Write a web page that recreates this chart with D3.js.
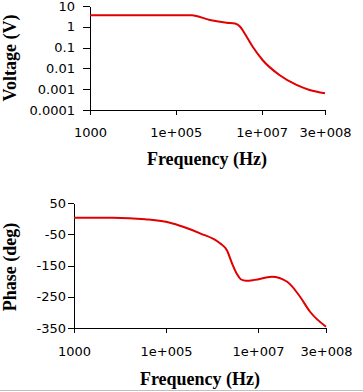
<!DOCTYPE html>
<meta charset="utf-8">
<style>

body {
  margin: 0;
  background: #fff;
}

.axis path, .axis line {
  stroke: #000;
  shape-rendering: crispEdges;
}

.axis text {
  font: 13px "DejaVu Sans", sans-serif;
  fill: #000;
}

.title {
  font: bold 18px "Liberation Serif", serif;
  fill: #000;
}

.curve {
  fill: none;
  stroke: #e00000;
  stroke-width: 2;
}

</style>
<body>
<script src="https://d3js.org/d3.v7.min.js"></script>
<script>

var width = 363,
    height = 392;

// frequency (Hz) against output voltage (V)
var voltFreq = [1e3, 2.35e5, 6.2e5, 1.53e6, 2.4e6, 3.2e6, 4.0e6, 6.2e6, 1.05e7, 2.6e7, 6.5e7, 1.31e8, 3e8];
var voltValues = [3.57, 3.57, 2.12, 1.57, 1.45, 0.98, 0.487, 0.110, 0.0254, 0.0048, 0.0016, 0.00092, 0.00064];

// frequency (Hz) against phase (deg)
var phaseFreq = [1e3, 7e3, 3.5e4, 1.22e5, 2.35e5, 5.5e5, 1.49e6, 2.12e6, 2.7e6, 3.5e6, 4.2e6, 5.5e6, 8.5e6, 2e7, 4.3e7, 8.2e7, 1.35e8, 3e8];
var phaseValues = [3, 3, -2, -13, -26, -47, -79, -102, -142, -178, -194, -199, -196, -186, -202, -250, -298, -346];

var freqTicks = [1e3, 1e5, 1e7, 3e8];
var freqLabels = ["1000", "1e+005", "1e+007", "3e+008"];
var voltTicks = [10, 1, 0.1, 0.01, 0.001, 0.0001];
var voltLabels = ["10", "1", "0.1", "0.01", "0.001", "0.0001"];
var phaseTicks = [50, -50, -150, -250, -350];

var svg = d3.select("body").append("svg")
    .attr("width", width)
    .attr("height", height);

// top panel: voltage
var x1 = d3.scaleLog().domain([1e3, 3e8]).range([90, 325]);
var y1 = d3.scaleLog().domain([0.0001, 10]).range([110, 6]);

svg.append("g")
    .attr("class", "axis")
    .attr("transform", "translate(0,110)")
    .call(d3.axisBottom(x1).tickValues(freqTicks).tickSize(5).tickSizeOuter(0).tickPadding(13)
      .tickFormat(function(d, i) { return freqLabels[i]; }));

svg.append("g")
    .attr("class", "axis")
    .attr("transform", "translate(90,0)")
    .call(d3.axisLeft(y1).tickValues(voltTicks).tickSize(7).tickSizeOuter(0).tickPadding(8)
      .tickFormat(function(d, i) { return voltLabels[i]; }));

svg.append("path")
    .datum(voltFreq.map(function(f, i) { return [f, voltValues[i]]; }))
    .attr("class", "curve")
    .attr("d", d3.line()
      .x(function(d) { return x1(d[0]); })
      .y(function(d) { return y1(d[1]); })
      .curve(d3.curveMonotoneX));

svg.append("text")
    .attr("class", "title")
    .attr("x", 207)
    .attr("y", 165)
    .attr("text-anchor", "middle")
    .text("Frequency (Hz)");

svg.append("text")
    .attr("class", "title")
    .attr("transform", "translate(16,58)rotate(-90)")
    .attr("text-anchor", "middle")
    .text("Voltage (V)");

// bottom panel: phase
var x2 = d3.scaleLog().domain([1e3, 3e8]).range([74, 326]);
var y2 = d3.scaleLinear().domain([-350, 50]).range([328, 203]);

svg.append("g")
    .attr("class", "axis")
    .attr("transform", "translate(0,328)")
    .call(d3.axisBottom(x2).tickValues(freqTicks).tickSize(5).tickSizeOuter(0).tickPadding(14)
      .tickFormat(function(d, i) { return freqLabels[i]; }));

// plain hyphen for negatives, as in the original
svg.append("g")
    .attr("class", "axis")
    .attr("transform", "translate(74,0)")
    .call(d3.axisLeft(y2).tickValues(phaseTicks).tickSize(6).tickSizeOuter(0).tickPadding(2)
      .tickFormat(function(d) { return String(d); }));

svg.append("path")
    .datum(phaseFreq.map(function(f, i) { return [f, phaseValues[i]]; }))
    .attr("class", "curve")
    .attr("d", d3.line()
      .x(function(d) { return x2(d[0]); })
      .y(function(d) { return y2(d[1]); })
      .curve(d3.curveMonotoneX));

svg.append("text")
    .attr("class", "title")
    .attr("x", 200)
    .attr("y", 385)
    .attr("text-anchor", "middle")
    .text("Frequency (Hz)");

svg.append("text")
    .attr("class", "title")
    .attr("transform", "translate(16,267)rotate(-90)")
    .attr("text-anchor", "middle")
    .text("Phase (deg)");

// thin grey rule along the bottom edge
svg.append("line")
    .attr("x1", 0).attr("x2", width)
    .attr("y1", 390.5).attr("y2", 390.5)
    .attr("stroke", "#c0c0c0");

</script>
